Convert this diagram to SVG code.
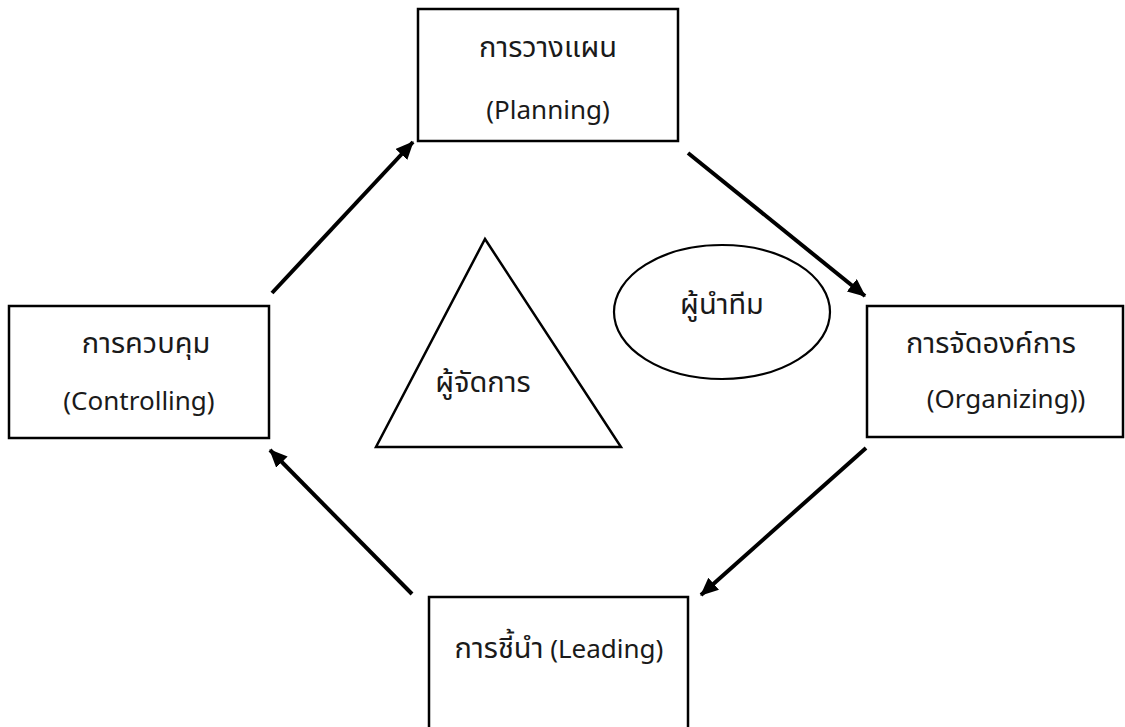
<svg xmlns="http://www.w3.org/2000/svg" width="1125" height="727" viewBox="0 0 1125 727">
  <style>
    .box { fill: #ffffff; stroke: #000000; stroke-width: 2.5; }
    .shape { fill: #ffffff; stroke: #000000; stroke-width: 2.5; }
    .label { font-family: "Noto Sans", "Noto Sans Thai", "Noto Sans Thai UI", sans-serif; font-size: 26px; fill: #1a1a1a; text-anchor: middle; }
    .th { font-size: 29px; }
    .flow { stroke: #000000; stroke-width: 4; fill: none; marker-end: url(#head); }
  </style>
  <defs>
    <marker id="head" markerUnits="userSpaceOnUse" markerWidth="18" markerHeight="16" refX="17" refY="8" orient="auto">
      <path d="M0,0 L18,8 L0,16 Z" fill="#000000"/>
    </marker>
  </defs>
  <rect width="1125" height="727" fill="#ffffff"/>

  <g id="connectors">
    <line class="flow" x1="272" y1="293" x2="413" y2="142"/>
    <line class="flow" x1="688" y1="153" x2="865" y2="296"/>
    <line class="flow" x1="866" y1="448" x2="701" y2="595"/>
    <line class="flow" x1="412" y1="594" x2="270" y2="450"/>
  </g>

  <g id="planning">
    <rect class="box" x="418" y="9" width="260" height="132"/>
    <text class="label th" x="548" y="57">การวางแผน</text>
    <text class="label" x="548" y="119">(Planning)</text>
  </g>

  <g id="organizing">
    <rect class="box" x="867" y="306" width="256" height="131"/>
    <text class="label th" x="991" y="353">การจัดองค์การ</text>
    <text class="label" x="1006" y="408">(Organizing))</text>
  </g>

  <g id="leading">
    <rect class="box" x="429" y="597" width="259" height="140"/>
    <text class="label" x="559" y="658"><tspan class="th">การชี้นำ</tspan> (Leading)</text>
  </g>

  <g id="controlling">
    <rect class="box" x="9" y="306" width="260" height="132"/>
    <text class="label th" x="146" y="353">การควบคุม</text>
    <text class="label" x="139" y="410">(Controlling)</text>
  </g>

  <g id="manager">
    <polygon class="shape" points="485,239 621,447 376,447"/>
    <text class="label th" x="483" y="392">ผู้จัดการ</text>
  </g>

  <g id="team-leader">
    <ellipse class="shape" cx="722" cy="312" rx="108" ry="67" style="stroke-width:2.2"/>
    <text class="label th" x="722" y="314">ผู้นำทีม</text>
  </g>
</svg>
